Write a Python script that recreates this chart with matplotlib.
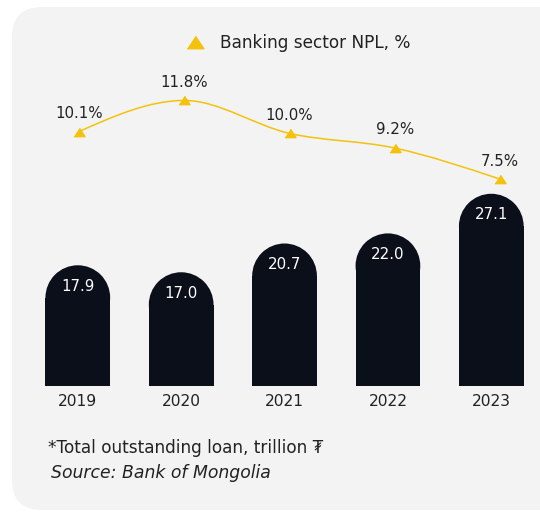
import matplotlib
matplotlib.use("Agg")
import matplotlib.pyplot as plt
from matplotlib.patches import FancyBboxPatch, Rectangle, Ellipse, PathPatch
from matplotlib.transforms import IdentityTransform
from matplotlib.lines import Line2D
from matplotlib.path import Path
import numpy as np

years = ["2019", "2020", "2021", "2022", "2023"]
loans = [17.9, 17.0, 20.7, 22.0, 27.1]      # trillion MNT
npl = [10.1, 11.8, 10.0, 9.2, 7.5]          # %

NAVY = "#0a0f1a"
YELLOW = "#f4c20d"
PANEL = "#f3f3f3"
TEXT = "#222222"

W, H = 540, 512
fig = plt.figure(figsize=(W / 100, H / 100), dpi=100)
fig.patch.set_facecolor("white")

# grey card behind everything (pixel coords)
card = FancyBboxPatch((12, 2), 560, 503, boxstyle="round,pad=0,rounding_size=30",
                      transform=IdentityTransform(), facecolor=PANEL, edgecolor="none", zorder=0)
fig.add_artist(card)


# monotone cubic path through the points (same idea as d3 curveMonotoneX)
def monotone_path(xs, ys):
    xs = np.asarray(xs, float)
    ys = np.asarray(ys, float)
    n = len(xs)
    h = np.diff(xs)
    s = np.diff(ys) / h
    t = np.zeros(n)
    for i in range(1, n - 1):
        p = (s[i - 1] * h[i] + s[i] * h[i - 1]) / (h[i - 1] + h[i])
        t[i] = (np.sign(s[i - 1]) + np.sign(s[i])) * min(abs(s[i - 1]), abs(s[i]), 0.5 * abs(p))
    t[0] = (3 * s[0] - t[1]) / 2
    t[-1] = (3 * s[-1] - t[-2]) / 2
    verts = [(xs[0], ys[0])]
    codes = [Path.MOVETO]
    for i in range(n - 1):
        dx = h[i] / 3
        verts += [(xs[i] + dx, ys[i] + dx * t[i]),
                  (xs[i + 1] - dx, ys[i + 1] - dx * t[i + 1]),
                  (xs[i + 1], ys[i + 1])]
        codes += [Path.CURVE4] * 3
    return Path(verts, codes)


# bars
ax = fig.add_axes([0, 0.2467, 1, 0.7533], facecolor="none")
ax.set_xlim(-0.7526, 4.4712)
ax.set_ylim(2.4, 52.04)
for sp in ax.spines.values():
    sp.set_visible(False)
ax.set_yticks([])
ax.set_xticks(range(len(years)), years)
ax.tick_params(axis="x", length=0, pad=6, labelsize=11.2, labelcolor=TEXT)

p0 = ax.transData.transform((0, 0))
p1 = ax.transData.transform((1, 1))
sx, sy = p1[0] - p0[0], p1[1] - p0[1]
bar_w = 0.626
rx = bar_w / 2
ry = rx * sx / sy

for i, v in enumerate(loans):
    ax.add_patch(Rectangle((i - rx, 0), bar_w, v - ry, facecolor=NAVY, edgecolor="none"))
    ax.add_patch(Ellipse((i, v - ry), 2 * rx, 2 * ry, facecolor=NAVY, edgecolor="none"))
    ax.annotate(f"{v:.1f}", (i, v), xytext=(0, -15), textcoords="offset points",
                ha="center", va="center", color="white", fontsize=10.8)

# NPL line
lx = fig.add_axes([0, 0, 1, 1], facecolor="none")
lx.set_xlim(-0.7506, 4.380)
lx.set_ylim(-10.69, 17.29)
lx.axis("off")

xs = list(range(len(npl)))
lx.add_patch(PathPatch(monotone_path(xs, npl), facecolor="none", edgecolor=YELLOW, lw=1.1))
tri = [(-1, -0.75), (1, -0.75), (0, 0.75)]
lx.plot(xs, npl, ls="none", marker=tri, ms=8, color=YELLOW)
for x, v in zip(xs, npl):
    lx.annotate(f"{v:.1f}%", (x, v), xytext=(0, 13), textcoords="offset points",
                ha="center", va="center", color=TEXT, fontsize=10.8)

handle = Line2D([], [], ls="none", marker=tri, ms=12, color=YELLOW)
fig.legend([handle], ["Banking sector NPL, %"], loc="center", bbox_to_anchor=(297.5 / W, 1 - 43 / H),
           frameon=False, fontsize=12.2, labelcolor=TEXT, handlelength=1.2, handletextpad=0.85)

fig.text(48 / W, 1 - 453 / H, "*Total outstanding loan, trillion ₮", fontsize=12.2, color=TEXT,
         va="baseline")
fig.text(51 / W, 1 - 478 / H, "Source: Bank of Mongolia", fontsize=12.4, color=TEXT, va="baseline",
         style="italic")

fig.savefig("out.png", dpi=100)
